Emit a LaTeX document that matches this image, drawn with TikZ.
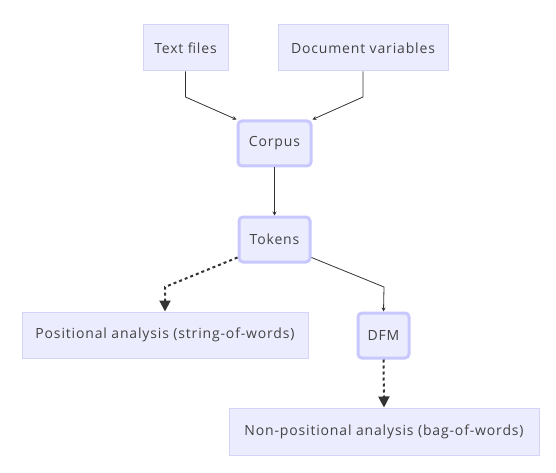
\documentclass[tikz,border=0pt]{standalone}
\usepackage{fontspec}
\setmainfont[LetterSpace=6]{Open Sans}
\usetikzlibrary{arrows.meta}
\definecolor{nodefill}{HTML}{ECECFF}
\definecolor{thinborder}{HTML}{D4D4FA}
\definecolor{thickborder}{HTML}{C8C8FF}
\definecolor{txt}{HTML}{444444}
\definecolor{edge}{HTML}{333333}
\tikzset{
  x=1pt,y=-1pt,
  box/.style={draw=thinborder,fill=nodefill,line width=1pt,text=txt,font=\fontsize{14}{16}\selectfont,inner sep=0pt,anchor=center},
  boxthick/.style={box,draw=thickborder,line width=3pt,rounded corners=4pt},
  solidedge/.style={draw=edge,line width=0.8pt,-{Stealth[length=4pt,width=4pt]}},
  dotedge/.style={draw=edge,line width=2pt,dash pattern=on 3pt off 3pt,-{Triangle[length=11pt,width=11pt]}}
}
\begin{document}
\begin{tikzpicture}
\useasboundingbox (0,0) rectangle (556,473);
\node[box,minimum width=85pt,minimum height=46pt] (text) at (185.5,48) {Text files};
\node[box,minimum width=170pt,minimum height=46pt] (docv) at (363,48) {Document variables};
\node[boxthick,minimum width=73pt,minimum height=45pt] (corpus) at (274.5,143.5) {Corpus};
\node[boxthick,minimum width=71pt,minimum height=45pt] (tokens) at (274.5,239.5) {Tokens};
\node[box,minimum width=286pt,minimum height=46pt] (pos) at (165,335) {Positional analysis (string-of-words)};
\node[boxthick,minimum width=51pt,minimum height=45pt] (dfm) at (383.5,335.5) {DFM};
\node[box,minimum width=310pt,minimum height=47pt] (nonpos) at (384,431.5) {Non-positional analysis (bag-of-words)};
\coordinate (c1) at (185.5,97);
\coordinate (c2) at (363,97);
\coordinate (c3) at (165,287);
\coordinate (c4) at (384,287);
\draw[solidedge] (text.south) -- (c1) -- (corpus.north west);
\draw[solidedge] (docv.south) -- (c2) -- (corpus.north east);
\draw[solidedge] (corpus.south) -- (tokens.north);
\draw[dotedge] (tokens.south west) ++(0,-6) -- (c3) -- (pos.north);
\draw[solidedge] (tokens.south east) ++(0,-6) -- (c4) -- (dfm.north);
\draw[dotedge] (dfm.south) -- (nonpos.north);
\end{tikzpicture}
\end{document}
